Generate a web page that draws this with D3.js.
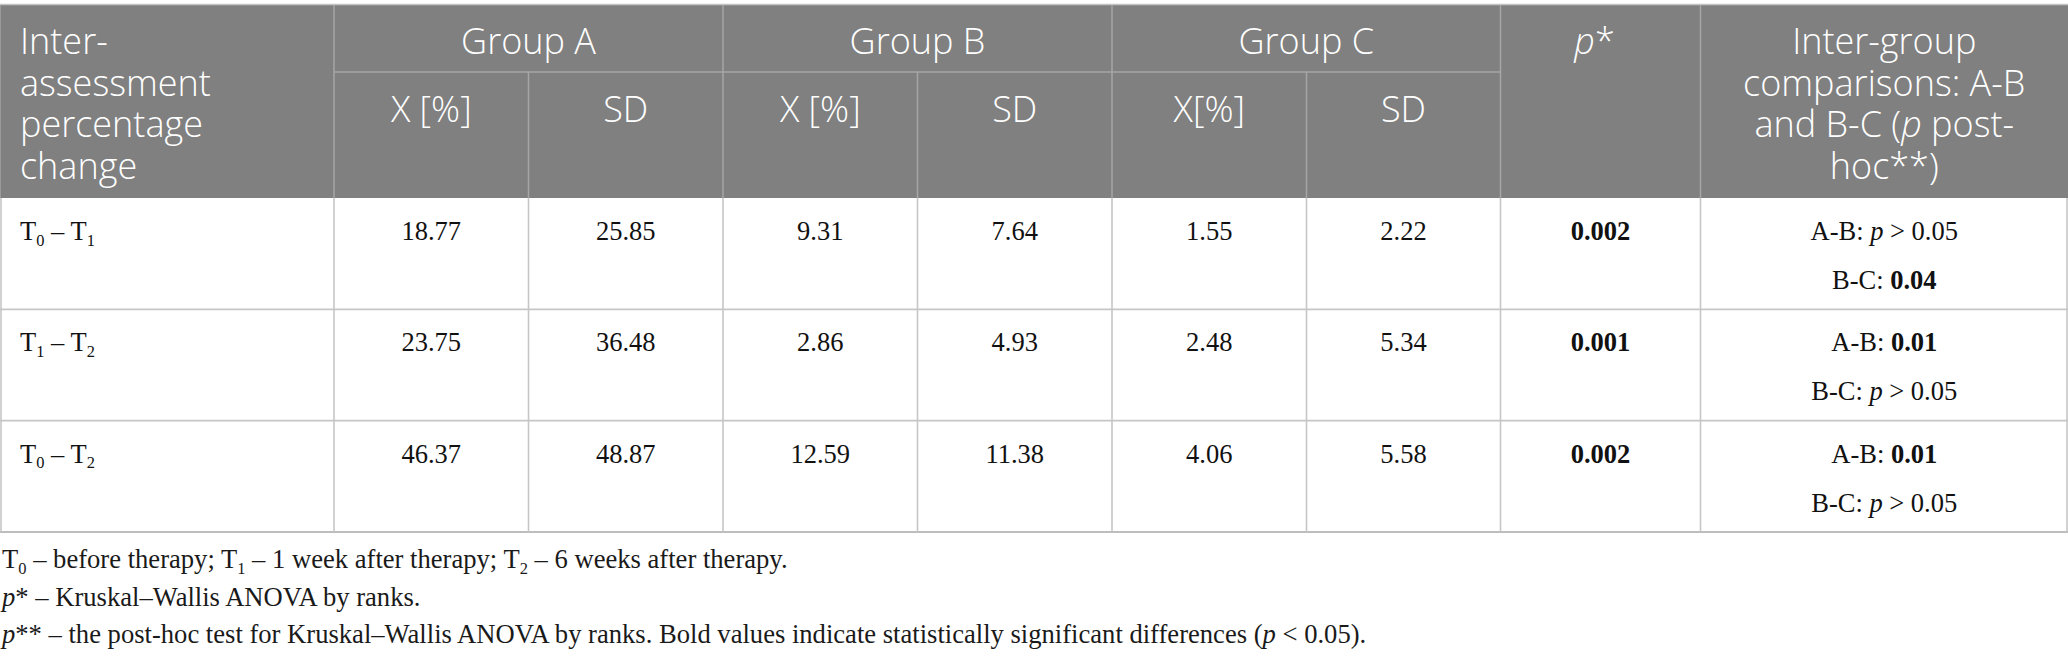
<!DOCTYPE html>
<html>
<head>
<meta charset="utf-8">
<script src="https://cdn.jsdelivr.net/npm/d3@7"></script>
<style>
  html, body { margin: 0; padding: 0; background: #ffffff; }
  svg { display: block; }
</style>
</head>
<body>
<div id="chart"></div>
<script>
// ---------------- DATA ----------------
const intervals = [["0", "1"], ["1", "2"], ["0", "2"]];          // T_a – T_b
const groups = ["Group A", "Group B", "Group C"];
const subHeaders = ["X [%]", "SD", "X [%]", "SD", "X[%]", "SD"];
const meanA = [18.77, 23.75, 46.37];
const sdA   = [25.85, 36.48, 48.87];
const meanB = [9.31, 2.86, 12.59];
const sdB   = [7.64, 4.93, 11.38];
const meanC = [1.55, 2.48, 4.06];
const sdC   = [2.22, 5.34, 5.58];
const pKW   = [0.002, 0.001, 0.002];
const pAB   = [">0.05", 0.01, 0.01];
const pBC   = [0.04, ">0.05", ">0.05"];
const firstHeader = ["Inter-", "assessment", "percentage", "change"];
const lastHeader = [
  [{t: "Inter-group"}],
  [{t: "comparisons: A-B"}],
  [{t: "and B-C ("}, {t: "p", s: "i"}, {t: " post-"}],
  [{t: "hoc**)"}]
];
const footnotes = [
  [{t: "T"}, {t: "0", s: "sub"}, {t: " – before therapy; T"}, {t: "1", s: "sub"},
   {t: " – 1 week after therapy; T"}, {t: "2", s: "sub"}, {t: " – 6 weeks after therapy."}],
  [{t: "p", s: "i"}, {t: "* – Kruskal–Wallis ANOVA by ranks."}],
  [{t: "p", s: "i"}, {t: "** – the post-hoc test for Kruskal–Wallis ANOVA by ranks. Bold values indicate statistically significant differences ("},
   {t: "p", s: "i"}, {t: " < 0.05)."}]
];

// ---------------- LAYOUT ----------------
const W = 2068, H = 661;
const colWidths = [334, 194.5, 194.5, 194.5, 194.5, 194.5, 194, 200, 367.5];
const edges = [0, ...d3.cumsum(colWidths)];
const x = d3.scaleOrdinal().domain(d3.range(edges.length)).range(edges);
const headTop = 5, headMid = 72, headBottom = 198, tableBottom = 532;
const y = d3.scaleBand().domain(d3.range(3)).range([headBottom, tableBottom]);

const SANS = "'Open Sans', 'Noto Sans', sans-serif";
const SERIF = "'Liberation Serif', 'Times New Roman', serif";
const headFill = "#808080";
const headLine = "#a6a6a6";
const bodyLine = "#c6c6c6";

const svg = d3.select("#chart").append("svg").attr("width", W).attr("height", H);

function rich(g, px, py, anchor, parts, opts) {
  const t = g.append("text")
    .attr("x", px).attr("y", py)
    .attr("text-anchor", anchor)
    .attr("font-family", opts.family)
    .attr("font-size", opts.size)
    .attr("font-weight", opts.weight || 400)
    .attr("fill", opts.fill);
  let shift = 0;
  parts.forEach(p => {
    const ts = t.append("tspan").text(p.t);
    if (p.s === "i") ts.attr("font-style", "italic");
    if (p.s === "b") ts.attr("font-weight", 700);
    if (p.s === "sub") {
      ts.attr("font-size", opts.size * 0.62).attr("dy", opts.size * 0.22);
      shift = opts.size * 0.22;
    } else if (shift) {
      ts.attr("dy", -shift);
      shift = 0;
    }
  });
  return t;
}

// ---------- header background ----------
svg.append("rect").attr("x", 0).attr("y", headTop).attr("width", W).attr("height", headBottom - headTop)
  .attr("fill", headFill);
svg.append("line").attr("x1", 0).attr("x2", W).attr("y1", headTop - 0.5).attr("y2", headTop - 0.5)
  .attr("stroke", "#c4c4c4").attr("stroke-width", 1.5);

const hl = svg.append("g").attr("stroke", headLine).attr("stroke-width", 1.5);
hl.append("line").attr("x1", x(1)).attr("x2", x(7)).attr("y1", headMid).attr("y2", headMid);
[1, 3, 5, 7, 8].forEach(i => hl.append("line").attr("x1", x(i)).attr("x2", x(i)).attr("y1", headTop).attr("y2", headBottom));
[2, 4, 6].forEach(i => hl.append("line").attr("x1", x(i)).attr("x2", x(i)).attr("y1", headMid).attr("y2", headBottom));

// ---------- header text ----------
const ht = svg.append("g");
const hOpts = {family: SANS, size: 36, weight: 300, fill: "#ffffff"};
const lineH = 41.5, firstBase = 54;
firstHeader.forEach((s, i) => rich(ht, 20, firstBase + i * lineH, "start", [{t: s}], hOpts));
groups.forEach((gname, i) => {
  const cx = (x(1 + 2 * i) + x(3 + 2 * i)) / 2;
  rich(ht, cx, firstBase, "middle", [{t: gname}], hOpts);
});
subHeaders.forEach((s, i) => {
  const cx = (x(1 + i) + x(2 + i)) / 2;
  rich(ht, cx, 122, "middle", [{t: s}], hOpts);
});
rich(ht, (x(7) + x(8)) / 2 - 6, firstBase, "middle", [{t: "p", s: "i"}, {t: "*"}], hOpts);
lastHeader.forEach((parts, i) => rich(ht, (x(8) + x(9)) / 2, firstBase + i * lineH, "middle", parts, hOpts));

// ---------- body lines ----------
const bl = svg.append("g").attr("stroke", bodyLine).attr("stroke-width", 1.6);
[1, 2].forEach(r => bl.append("line").attr("x1", 0).attr("x2", W).attr("y1", y(r)).attr("y2", y(r)));
bl.append("line").attr("x1", 0).attr("x2", W).attr("y1", tableBottom).attr("y2", tableBottom)
  .attr("stroke", "#bdbdbd").attr("stroke-width", 2.2);
d3.range(edges.length).forEach(i => {
  const xx = i === 0 ? 1 : (i === edges.length - 1 ? W - 1 : x(i));
  bl.append("line").attr("x1", xx).attr("x2", xx).attr("y1", headBottom).attr("y2", tableBottom);
});
svg.append("line").attr("x1", 0.5).attr("x2", 0.5).attr("y1", headTop).attr("y2", headBottom).attr("stroke", "#9a9a9a");

// ---------- body text ----------
const bt = svg.append("g");
const bOpts = {family: SERIF, size: 26.5, fill: "#111111"};
const f2 = d3.format(".2f"), f3 = d3.format(".3f");
const numericCols = [meanA, sdA, meanB, sdB, meanC, sdC];
function cmpParts(label, v) {
  if (typeof v === "number") {
    return [{t: label + ": "}, {t: f2(v), s: v < 0.05 ? "b" : null}];
  }
  return [{t: label + ": "}, {t: "p", s: "i"}, {t: " > " + v.replace(">", "")}];
}
d3.range(3).forEach(r => {
  const b1 = y(r) + 42, b2 = y(r) + 91;
  const iv = intervals[r];
  rich(bt, 20, b1, "start",
    [{t: "T"}, {t: iv[0], s: "sub"}, {t: " – T"}, {t: iv[1], s: "sub"}], bOpts);
  numericCols.forEach((arr, c) => {
    rich(bt, (x(1 + c) + x(2 + c)) / 2, b1, "middle", [{t: f2(arr[r])}], bOpts);
  });
  rich(bt, (x(7) + x(8)) / 2, b1, "middle", [{t: f3(pKW[r]), s: pKW[r] < 0.05 ? "b" : null}], bOpts);
  const cx = (x(8) + x(9)) / 2;
  rich(bt, cx, b1, "middle", cmpParts("A-B", pAB[r]), bOpts);
  rich(bt, cx, b2, "middle", cmpParts("B-C", pBC[r]), bOpts);
});

// ---------- footnotes ----------
const fn = svg.append("g");
const fOpts = {family: SERIF, size: 26.6, fill: "#1a1a1a"};
const fBase = [568, 606, 643];
footnotes.forEach((parts, i) => rich(fn, 2, fBase[i], "start", parts, fOpts));
</script>
</body>
</html>
